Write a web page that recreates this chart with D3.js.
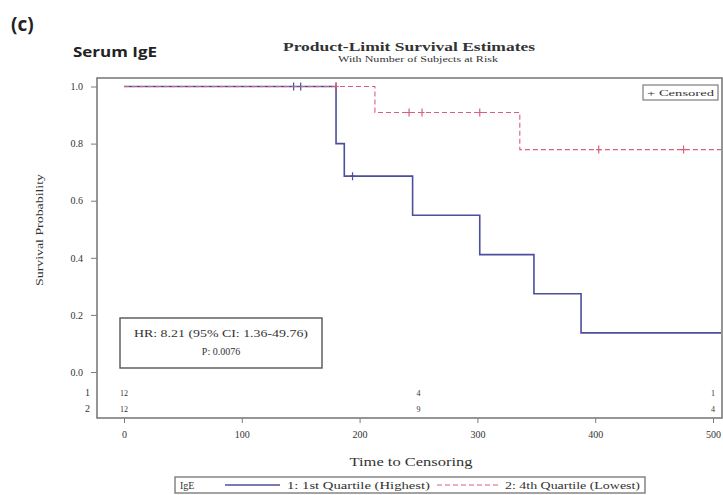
<!DOCTYPE html>
<html>
<head>
<meta charset="utf-8">
<script src="https://cdn.jsdelivr.net/npm/d3@7"></script>
<style>
  body { margin: 0; background: #fff; }
  text { font-family: "Liberation Serif", "DejaVu Serif", serif; fill: #333; }
</style>
</head>
<body>
<script>
// survival steps
var highTimes = [0, 180, 187, 245, 302, 348, 388];
var highSurv = [1.0, 0.8, 0.686, 0.549, 0.411, 0.274, 0.137];
var highCensorTimes = [144, 150, 180, 194];

var lowTimes = [0, 213, 336];
var lowSurv = [1.0, 0.909, 0.779];
var lowCensorTimes = [180, 242, 253, 302, 403, 475];

var riskTimes = [0, 250, 500];
var riskHigh = [12, 4, 1];
var riskLow = [12, 9, 4];

var xTicks = [0, 100, 200, 300, 400, 500];
var yTicks = [0, 0.2, 0.4, 0.6, 0.8, 1.0];

var blue = "#4b4f9c";
var red = "#d8607c";
var frameColor = "#7c7c7c";

var svg = d3.select("body").append("svg")
    .attr("width", 723)
    .attr("height", 495);

var frame = { left: 97, top: 78, right: 722, bottom: 418 };

var x = d3.scaleLinear().domain([0, 500]).range([124, 713]);
var y = d3.scaleLinear().domain([0, 1]).range([372, 86.5]);
var tEnd = x.invert(frame.right - 1);

// headings
svg.append("text")
    .attr("x", 11).attr("y", 31)
    .style("font-family", "'Open Sans', 'Liberation Sans', sans-serif")
    .style("font-weight", "bold")
    .style("font-size", "19px")
    .style("fill", "#222")
    .text("(c)");

svg.append("text")
    .attr("x", 73).attr("y", 57)
    .attr("textLength", 84)
    .attr("lengthAdjust", "spacingAndGlyphs")
    .style("font-family", "'Open Sans', 'Liberation Sans', sans-serif")
    .style("font-weight", "bold")
    .style("font-size", "14px")
    .style("fill", "#222")
    .text("Serum IgE");

svg.append("text")
    .attr("x", 409).attr("y", 51)
    .attr("text-anchor", "middle")
    .attr("textLength", 252)
    .attr("lengthAdjust", "spacingAndGlyphs")
    .style("font-weight", "bold")
    .style("font-size", "13px")
    .text("Product-Limit Survival Estimates");

svg.append("text")
    .attr("x", 418).attr("y", 62)
    .attr("text-anchor", "middle")
    .attr("textLength", 160)
    .attr("lengthAdjust", "spacingAndGlyphs")
    .style("font-size", "9px")
    .text("With Number of Subjects at Risk");

// plot frame
svg.append("rect")
    .attr("x", frame.left)
    .attr("y", frame.top)
    .attr("width", frame.right - frame.left)
    .attr("height", frame.bottom - frame.top)
    .attr("fill", "none")
    .attr("stroke", frameColor)
    .attr("stroke-width", 1.6);

// y axis
var yAxis = svg.append("g")
    .attr("transform", "translate(" + frame.left + ",0)")
    .call(d3.axisLeft(y).tickValues(yTicks).tickSize(6).tickFormat(d3.format(".1f")));
yAxis.select(".domain").remove();
yAxis.selectAll("line").attr("stroke", frameColor);
yAxis.selectAll("text")
    .attr("x", -14)
    .style("font-size", "10px")
    .style("font-family", "'Liberation Serif', serif");

svg.append("text")
    .attr("transform", "translate(43,230) rotate(-90)")
    .attr("text-anchor", "middle")
    .attr("textLength", 112)
    .attr("lengthAdjust", "spacingAndGlyphs")
    .style("font-size", "11px")
    .text("Survival Probability");

// x axis
var xAxis = svg.append("g")
    .attr("transform", "translate(0," + frame.bottom + ")")
    .call(d3.axisBottom(x).tickValues(xTicks).tickSize(5).tickFormat(d3.format("d")));
xAxis.select(".domain").remove();
xAxis.selectAll("line").attr("stroke", frameColor);
xAxis.selectAll("text")
    .attr("y", 13)
    .style("font-size", "10px")
    .style("font-family", "'Liberation Serif', serif");

svg.append("text")
    .attr("x", 411).attr("y", 466)
    .attr("text-anchor", "middle")
    .attr("textLength", 123)
    .attr("lengthAdjust", "spacingAndGlyphs")
    .style("font-size", "12px")
    .text("Time to Censoring");

// step curves
function stepPoints(times, surv) {
    var pts = [];
    for (var i = 0; i < times.length; i++) {
        pts.push([times[i], surv[i]]);
    }
    pts.push([tEnd, surv[surv.length - 1]]);
    return pts;
}

function survAt(times, surv, t) {
    var s = surv[0];
    for (var i = 0; i < times.length; i++) {
        if (times[i] <= t) s = surv[i];
    }
    return s;
}

var line = d3.line()
    .x(function (d) { return x(d[0]); })
    .y(function (d) { return y(d[1]); })
    .curve(d3.curveStepAfter);

function drawCurve(times, surv, censors, color, dash, width) {
    svg.append("path")
        .datum(stepPoints(times, surv))
        .attr("d", line)
        .attr("fill", "none")
        .attr("stroke", color)
        .attr("stroke-width", width)
        .attr("stroke-dasharray", dash);

    svg.selectAll(null)
        .data(censors)
        .enter().append("path")
        .attr("d", function (t) {
            // censor marks sit on the level before any drop at the same time
            var s = survAt(times, surv, t - 0.01);
            var cx = x(t), cy = y(s);
            return "M" + cx + "," + (cy - 4) + "V" + (cy + 4) + "M" + (cx - 2.5) + "," + cy + "H" + (cx + 2.5);
        })
        .attr("stroke", color)
        .attr("stroke-width", 1.2)
        .attr("fill", "none");
}

drawCurve(highTimes, highSurv, highCensorTimes, blue, null, 1.6);
drawCurve(lowTimes, lowSurv, lowCensorTimes, red, "5,3", 1.1);

// censored legend
svg.append("rect")
    .attr("x", 643).attr("y", 85)
    .attr("width", 75).attr("height", 15)
    .attr("fill", "#fff")
    .attr("stroke", frameColor)
    .attr("stroke-width", 1.2);
svg.append("text")
    .attr("x", 647).attr("y", 96)
    .attr("textLength", 67)
    .attr("lengthAdjust", "spacingAndGlyphs")
    .style("font-size", "9px")
    .text("+ Censored");

// hazard ratio box
svg.append("rect")
    .attr("x", 120).attr("y", 318)
    .attr("width", 202).attr("height", 50)
    .attr("fill", "#fff")
    .attr("stroke", "#555")
    .attr("stroke-width", 1.4);
svg.append("text")
    .attr("x", 221).attr("y", 337)
    .attr("text-anchor", "middle")
    .attr("textLength", 174)
    .attr("lengthAdjust", "spacingAndGlyphs")
    .style("font-size", "10px")
    .text("HR: 8.21 (95% CI: 1.36-49.76)");
svg.append("text")
    .attr("x", 221).attr("y", 355)
    .attr("text-anchor", "middle")
    .style("font-size", "10px")
    .text("P: 0.0076");

// number at risk
var riskRows = [
    { label: "1", values: riskHigh, y: 393 },
    { label: "2", values: riskLow, y: 409 }
];
riskRows.forEach(function (row) {
    svg.append("text")
        .attr("x", 90).attr("y", row.y + 3)
        .attr("text-anchor", "end")
        .style("font-size", "10px")
        .text(row.label);
    svg.selectAll(null)
        .data(row.values)
        .enter().append("text")
        .attr("x", function (d, i) { return Math.min(x(riskTimes[i]), 716); })
        .attr("y", row.y + 3)
        .attr("text-anchor", "middle")
        .style("font-size", "8px")
        .text(function (d) { return d; });
});

// group legend
svg.append("rect")
    .attr("x", 175).attr("y", 477)
    .attr("width", 470).attr("height", 16)
    .attr("fill", "#fff")
    .attr("stroke", frameColor)
    .attr("stroke-width", 1.4);
svg.append("text")
    .attr("x", 180).attr("y", 489)
    .style("font-size", "10px")
    .text("IgE");
svg.append("line")
    .attr("x1", 225).attr("x2", 280)
    .attr("y1", 485).attr("y2", 485)
    .attr("stroke", blue)
    .attr("stroke-width", 1.4);
svg.append("text")
    .attr("x", 287).attr("y", 489)
    .attr("textLength", 143)
    .attr("lengthAdjust", "spacingAndGlyphs")
    .style("font-size", "10px")
    .text("1: 1st Quartile (Highest)");
svg.append("line")
    .attr("x1", 437).attr("x2", 500)
    .attr("y1", 485).attr("y2", 485)
    .attr("stroke", red)
    .attr("stroke-width", 1.1)
    .attr("stroke-dasharray", "5,3");
svg.append("text")
    .attr("x", 505).attr("y", 489)
    .attr("textLength", 135)
    .attr("lengthAdjust", "spacingAndGlyphs")
    .style("font-size", "10px")
    .text("2: 4th Quartile (Lowest)");
</script>
</body>
</html>
